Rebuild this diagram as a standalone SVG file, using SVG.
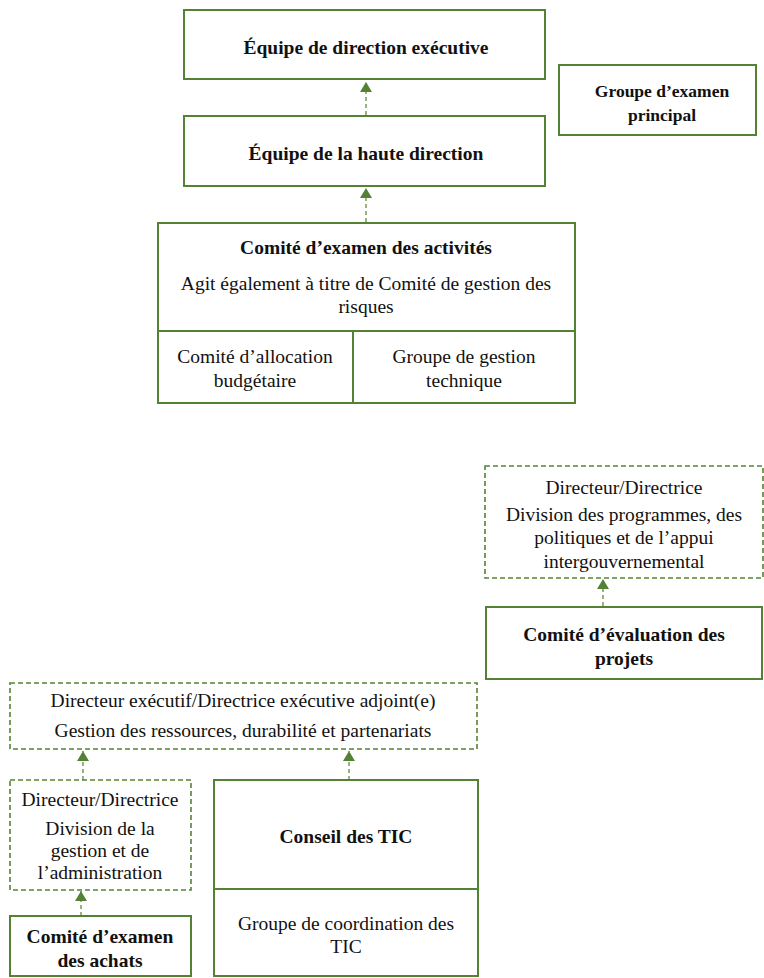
<svg xmlns="http://www.w3.org/2000/svg" width="764" height="978" viewBox="0 0 764 978">
<style>
.box{fill:#fff;stroke:#548235;stroke-width:2}
.dbox{fill:#fff;stroke:#548235;stroke-width:1.6;stroke-dasharray:5,3}
.div{stroke:#548235;stroke-width:2}
.t{font-family:'Liberation Serif','DejaVu Serif',serif;font-size:19.5px;fill:#111;text-anchor:middle}
.b{font-weight:bold}
.s{font-size:17.5px}
.con{stroke:#548235;stroke-width:1.2;stroke-dasharray:4,3;fill:none}
</style>
<defs>
<marker id="ah" markerWidth="12" markerHeight="12" refX="10" refY="6" orient="auto" markerUnits="userSpaceOnUse">
<path d="M0,0 L10,6 L0,12 Z" fill="#548235"/>
</marker>
</defs>
<rect width="764" height="978" fill="#fff"/>
<g id="connectors">
<line class="con" x1="366" y1="115" x2="366" y2="82" marker-end="url(#ah)"/>
<line class="con" x1="366" y1="222" x2="366" y2="188" marker-end="url(#ah)"/>
<line class="con" x1="603" y1="606" x2="603" y2="579" marker-end="url(#ah)"/>
<line class="con" x1="83" y1="780" x2="83" y2="751" marker-end="url(#ah)"/>
<line class="con" x1="349" y1="780" x2="349" y2="751" marker-end="url(#ah)"/>
<line class="con" x1="81" y1="916" x2="81" y2="891" marker-end="url(#ah)"/>
</g>
<g id="n1">
<rect class="box" x="184" y="10" width="361" height="69"/>
<text class="t b" x="366" y="54">Équipe de direction exécutive</text>
</g>
<g id="n2">
<rect class="box" x="184" y="116" width="361" height="70"/>
<text class="t b" x="366" y="160">Équipe de la haute direction</text>
</g>
<g id="n3">
<rect class="box" x="559" y="65" width="197" height="70"/>
<text class="t b s" x="662" y="97">Groupe d’examen</text>
<text class="t b s" x="662" y="121">principal</text>
</g>
<g id="n4">
<rect class="box" x="158" y="223" width="417" height="180"/>
<line class="div" x1="158" y1="331" x2="575" y2="331"/>
<line class="div" x1="353" y1="331" x2="353" y2="403"/>
<text class="t b" x="366" y="254">Comité d’examen des activités</text>
<text class="t" x="366" y="290">Agit également à titre de Comité de gestion des</text>
<text class="t" x="366" y="313">risques</text>
<text class="t" x="255" y="363">Comité d’allocation</text>
<text class="t" x="255" y="387">budgétaire</text>
<text class="t" x="464" y="363">Groupe de gestion</text>
<text class="t" x="464" y="387">technique</text>
</g>
<g id="n5">
<rect class="dbox" x="485" y="466" width="278" height="112"/>
<text class="t" x="624" y="494">Directeur/Directrice</text>
<text class="t" x="624" y="521">Division des programmes, des</text>
<text class="t" x="624" y="544">politiques et de l’appui</text>
<text class="t" x="624" y="568">intergouvernemental</text>
</g>
<g id="n6">
<rect class="box" x="486" y="607" width="276" height="72"/>
<text class="t b" x="624" y="641">Comité d’évaluation des</text>
<text class="t b" x="624" y="665">projets</text>
</g>
<g id="n7">
<rect class="dbox" x="10" y="683" width="467" height="66"/>
<text class="t" x="243" y="707">Directeur exécutif/Directrice exécutive adjoint(e)</text>
<text class="t" x="243" y="737">Gestion des ressources, durabilité et partenariats</text>
</g>
<g id="n8">
<rect class="dbox" x="10" y="780" width="181" height="110"/>
<text class="t" x="100" y="806">Directeur/Directrice</text>
<text class="t" x="100" y="835">Division de la</text>
<text class="t" x="100" y="857">gestion et de</text>
<text class="t" x="100" y="879">l’administration</text>
</g>
<g id="n9">
<rect class="box" x="10" y="916" width="181" height="60"/>
<text class="t b" x="100" y="943">Comité d’examen</text>
<text class="t b" x="100" y="967">des achats</text>
</g>
<g id="n10">
<rect class="box" x="214" y="780" width="264" height="196"/>
<line class="div" x1="214" y1="889" x2="478" y2="889"/>
<text class="t b" x="346" y="843">Conseil des TIC</text>
<text class="t" x="346" y="930">Groupe de coordination des</text>
<text class="t" x="346" y="953">TIC</text>
</g>
</svg>
